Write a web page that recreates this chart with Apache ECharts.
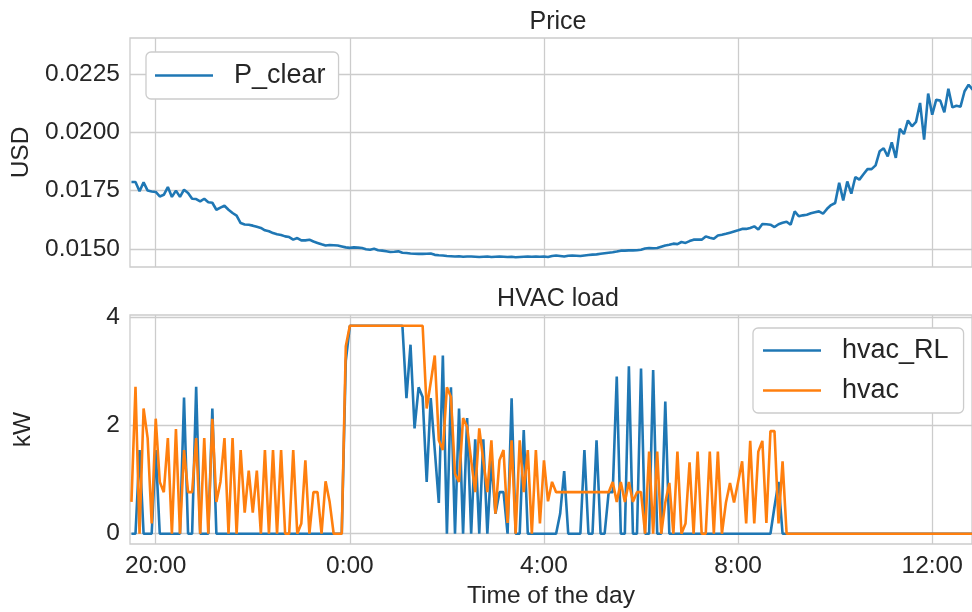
<!DOCTYPE html>
<html>
<head>
<meta charset="utf-8">
<script src="https://cdn.jsdelivr.net/npm/echarts@6/dist/echarts.min.js"></script>
<style>
  html, body { margin: 0; padding: 0; background: #ffffff; }
  #chart { width: 972px; height: 612px; }
</style>
</head>
<body>
<div id="chart"></div>
<script>
// 5-minute samples starting at 19:30 (hours past midnight of the first day)
const startHour = 19.5;
const stepHours = 5 / 60;

const tickHours = [20, 24, 28, 32, 36];
const tickLabels = ['20:00', '0:00', '4:00', '8:00', '12:00'];
const priceTicks = [0.015, 0.0175, 0.02, 0.0225];
const loadTicks = [0, 2, 4];

// Market clearing price, USD
const pClear = [
  0.01787, 0.01787, 0.01747, 0.01785, 0.01750, 0.01746, 0.01744, 0.01725, 0.01732, 0.01765,
  0.01723, 0.01750, 0.01723, 0.01754, 0.01740, 0.01715, 0.01714, 0.01704, 0.01715, 0.01700,
  0.01698, 0.01668, 0.01677, 0.01685, 0.01668, 0.01654, 0.01643, 0.01611, 0.01605, 0.01604,
  0.01600, 0.01595, 0.01590, 0.01580, 0.01576, 0.01568, 0.01563, 0.01560, 0.01554, 0.01551,
  0.01540, 0.01547, 0.01537, 0.01537, 0.01540, 0.01532, 0.01526, 0.01520, 0.01515, 0.01517,
  0.01516, 0.01515, 0.01511, 0.01507, 0.01505, 0.01507, 0.01506, 0.01504, 0.01499, 0.01497,
  0.01501, 0.01495, 0.01493, 0.01490, 0.01487, 0.01488, 0.01490, 0.01484, 0.01483, 0.01481,
  0.01480, 0.01479, 0.01479, 0.01480, 0.01481, 0.01475, 0.01473, 0.01472, 0.01470, 0.01469,
  0.01468, 0.01469, 0.01467, 0.01468, 0.01468, 0.01467, 0.01466, 0.01467, 0.01468, 0.01466,
  0.01467, 0.01468, 0.01467, 0.01466, 0.01467, 0.01465, 0.01466, 0.01467, 0.01468, 0.01467,
  0.01468, 0.01467, 0.01468, 0.01466, 0.01470, 0.01472, 0.01470, 0.01468, 0.01471, 0.01472,
  0.01471, 0.01470, 0.01472, 0.01474, 0.01476, 0.01477, 0.01480, 0.01482, 0.01484, 0.01486,
  0.01489, 0.01493, 0.01493, 0.01494, 0.01494, 0.01495, 0.01497, 0.01502, 0.01504, 0.01503,
  0.01504, 0.01510, 0.01515, 0.01518, 0.01523, 0.01521, 0.01530, 0.01526, 0.01534, 0.01540,
  0.01541, 0.01540, 0.01554, 0.01548, 0.01544, 0.01558, 0.01561, 0.01565, 0.01570, 0.01575,
  0.01580, 0.01586, 0.01586, 0.01590, 0.01597, 0.01583, 0.01607, 0.01606, 0.01604, 0.01594,
  0.01606, 0.01612, 0.01617, 0.01604, 0.01661, 0.01640, 0.01644, 0.01647, 0.01653, 0.01657,
  0.01661, 0.01651, 0.01672, 0.01688, 0.01697, 0.01783, 0.01708, 0.01789, 0.01737, 0.01808,
  0.01797, 0.01820, 0.01842, 0.01842, 0.01858, 0.01918, 0.01931, 0.01896, 0.01956, 0.01890,
  0.02015, 0.01992, 0.02050, 0.02025, 0.02044, 0.02125, 0.01968, 0.02165, 0.02075, 0.02139,
  0.02135, 0.02085, 0.02186, 0.02106, 0.02113, 0.02109, 0.02175, 0.02203, 0.02182
];

// HVAC power drawn under the learned controller, kW
const hvacRL = [
  0, 0, 1.55, 0, 0, 0, 1.55, 0, 0, 0,
  0, 0, 0, 2.52, 0, 0, 2.72, 0, 0, 0,
  2.32, 0, 0, 0, 0, 0, 0, 0, 0, 0,
  0, 0, 0, 0, 0, 0, 0, 0, 0, 0,
  0, 0, 0, 0, 0, 0, 0, 0, 0, 0,
  0, 0, 0, 3.2, 3.85, 3.85, 3.85, 3.85, 3.85, 3.85,
  3.85, 3.85, 3.85, 3.85, 3.85, 3.85, 3.85, 3.85, 2.51, 3.5,
  1.95, 2.71, 2.53, 0.96, 2.51, 1.55, 0.57, 3.3, 0, 2.71,
  0, 2.32, 0, 2.14, 0, 1.75, 0, 1.75, 0, 1.36,
  0.37, 0.77, 0.77, 0, 2.51, 0, 0, 1.92, 0, 0,
  0, 0, 0, 0, 0, 0, 0.37, 1.16, 0, 0,
  0, 0, 1.55, 0, 0, 1.73, 0, 0, 0.77, 0.77,
  2.91, 0, 0, 3.1, 0, 0, 3.06, 0, 0, 3.03,
  0, 0, 2.45, 0, 0, 0, 0, 0, 0, 0,
  0, 0, 0, 0, 0, 0, 0, 0, 0, 0,
  0, 0, 0, 0, 0, 0, 0, 0, 0, 0.5,
  0.96, 0, 0, 0, 0, 0, 0, 0, 0, 0,
  0, 0, 0, 0, 0, 0, 0, 0, 0, 0,
  0, 0, 0, 0, 0, 0, 0, 0, 0, 0,
  0, 0, 0, 0, 0, 0, 0, 0, 0, 0,
  0, 0, 0, 0, 0, 0, 0, 0, 0
];

// HVAC power drawn under the baseline thermostat, kW
const hvac = [
  0.59, 2.72, 0, 2.32, 1.77, 0.19, 2.13, 0.96, 0.77, 1.77,
  0, 1.94, 0, 1.55, 0.77, 0.77, 1.77, 0, 1.77, 0,
  2.13, 0.59, 0.96, 1.77, 0, 1.77, 0, 1.55, 0.39, 1.17,
  0.39, 1.17, 0, 1.55, 0, 1.55, 0, 1.55, 0, 0,
  1.55, 0, 0.19, 1.36, 0, 0.77, 0.77, 0, 0.97, 0.59,
  0, 0, 0, 3.47, 3.85, 3.85, 3.85, 3.85, 3.85, 3.85,
  3.85, 3.85, 3.85, 3.85, 3.85, 3.85, 3.85, 3.85, 3.85, 3.85,
  3.85, 3.85, 3.85, 2.32, 2.8, 3.3, 1.73, 1.55, 2.71, 2.53,
  1.11, 0.96, 2.14, 1.98, 1.36, 0.77, 1.95, 1.36, 0.77, 1.73,
  0.37, 1.36, 1.55, 0.2, 1.73, 0, 1.73, 0.77, 1.55, 0,
  1.55, 0.19, 1.36, 0.6, 0.96, 0.77, 0.77, 0.77, 0.77, 0.77,
  0.77, 0.77, 0.77, 0.77, 0.77, 0.77, 0.77, 0.77, 0.77, 0.96,
  0.59, 0.96, 0.59, 0.96, 0.59, 0.77, 0.77, 0, 1.52, 0,
  1.52, 0, 0.58, 0.94, 0, 1.52, 0, 0.19, 1.32, 0,
  1.52, 0, 0, 1.52, 0, 1.52, 0, 0.58, 0.94, 0.58,
  0.96, 1.34, 0.19, 1.72, 0.19, 1.52, 1.72, 0.2, 1.9, 1.9,
  0.19, 1.34, 0, 0, 0, 0, 0, 0, 0, 0,
  0, 0, 0, 0, 0, 0, 0, 0, 0, 0,
  0, 0, 0, 0, 0, 0, 0, 0, 0, 0,
  0, 0, 0, 0, 0, 0, 0, 0, 0, 0,
  0, 0, 0, 0, 0, 0, 0, 0, 0
];

const pairs = (vals) => vals.map((v, i) => [startHour + i * stepHours, v]);

const FONT = "'Liberation Sans', Arial, sans-serif";
const TEXT = '#262626';
const GRID = '#cccccc';
const BLUE = '#1f77b4';
const ORANGE = '#ff7f0e';

const xMin = 19.47, xMax = 36.82;

function xAxis(gridIndex, withLabels) {
  return {
    type: 'value', gridIndex, min: xMin, max: xMax,
    axisLine: { show: false },
    axisTick: { show: false, customValues: tickHours },
    splitLine: { show: true, lineStyle: { color: GRID, width: 1.3 } },
    axisLabel: {
      show: withLabels, customValues: tickHours, margin: 10,
      color: TEXT, fontFamily: FONT, fontSize: 24.5,
      formatter: (v) => tickLabels[tickHours.indexOf(Math.round(v))] || ''
    },
    name: withLabels ? 'Time of the day' : '',
    nameLocation: 'middle', nameGap: 40,
    nameTextStyle: { color: TEXT, fontFamily: FONT, fontSize: 24.5 }
  };
}

const legendBase = {
  orient: 'vertical', icon: 'rect', itemWidth: 58, itemHeight: 2.6,
  backgroundColor: '#ffffff', borderColor: GRID, borderWidth: 1.3, borderRadius: 5,
  textStyle: { color: TEXT, fontFamily: FONT, fontSize: 27, padding: [0, 0, 0, 16] }
};

const chart = echarts.init(document.getElementById('chart'), null, { renderer: 'canvas' });

chart.setOption({
  animation: false,
  backgroundColor: '#ffffff',
  title: [
    { text: 'Price', left: 553, top: 5, textAlign: 'center',
      textStyle: { color: TEXT, fontFamily: FONT, fontSize: 25, fontWeight: 'normal' } },
    { text: 'HVAC load', left: 553, top: 282, textAlign: 'center',
      textStyle: { color: TEXT, fontFamily: FONT, fontSize: 25, fontWeight: 'normal' } }
  ],
  grid: [
    { left: 130, right: 0, top: 38, height: 229, show: true, borderColor: GRID, borderWidth: 1.3 },
    { left: 130, right: 0, top: 315, height: 229, show: true, borderColor: GRID, borderWidth: 1.3 }
  ],
  legend: [
    Object.assign({}, legendBase, {
      data: ['P_clear'], left: 146, top: 52, padding: [10, 13, 10, 9]
    }),
    Object.assign({}, legendBase, {
      data: ['hvac_RL', 'hvac'], left: 753, top: 328, padding: [9, 15, 9, 10], itemGap: 13
    })
  ],
  xAxis: [xAxis(0, false), xAxis(1, true)],
  yAxis: [
    {
      type: 'value', gridIndex: 0, min: 0.01423, max: 0.02403,
      axisLine: { show: false }, axisTick: { show: false, customValues: priceTicks },
      splitLine: { show: true, lineStyle: { color: GRID, width: 1.3 } },
      axisLabel: { customValues: priceTicks, margin: 10, color: TEXT, fontFamily: FONT, fontSize: 24.5,
        formatter: (v) => v.toFixed(4) },
      name: 'USD', nameLocation: 'middle', nameGap: 94, nameRotate: 90,
      nameTextStyle: { color: TEXT, fontFamily: FONT, fontSize: 24.5 }
    },
    {
      type: 'value', gridIndex: 1, min: -0.19, max: 4.05,
      axisLine: { show: false }, axisTick: { show: false, customValues: loadTicks },
      splitLine: { show: true, lineStyle: { color: GRID, width: 1.3 } },
      axisLabel: { customValues: loadTicks, margin: 10, color: TEXT, fontFamily: FONT, fontSize: 24.5 },
      name: 'kW', nameLocation: 'middle', nameGap: 94, nameRotate: 90,
      nameTextStyle: { color: TEXT, fontFamily: FONT, fontSize: 24.5 }
    }
  ],
  series: [
    { name: 'P_clear', type: 'line', xAxisIndex: 0, yAxisIndex: 0, data: pairs(pClear),
      symbol: 'none', lineStyle: { color: BLUE, width: 2.6 }, itemStyle: { color: BLUE } },
    { name: 'hvac_RL', type: 'line', xAxisIndex: 1, yAxisIndex: 1, data: pairs(hvacRL),
      symbol: 'none', lineStyle: { color: BLUE, width: 2.6 }, itemStyle: { color: BLUE } },
    { name: 'hvac', type: 'line', xAxisIndex: 1, yAxisIndex: 1, data: pairs(hvac),
      symbol: 'none', lineStyle: { color: ORANGE, width: 2.6 }, itemStyle: { color: ORANGE } }
  ]
});
</script>
</body>
</html>
